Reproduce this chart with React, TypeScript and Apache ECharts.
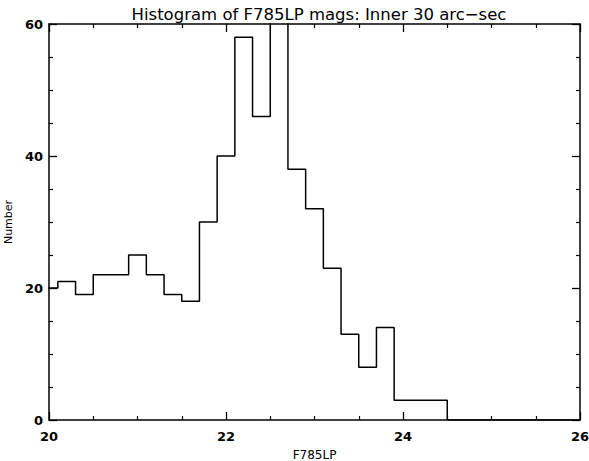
import React, { useEffect, useRef } from "react";
import * as echarts from "echarts";

// Histogram bins: left edges (mag) and counts
const binLeftEdges: number[] = [19.9, 20.1, 20.3, 20.5, 20.7, 20.9, 21.1, 21.3, 21.5, 21.7, 21.9, 22.1, 22.3, 22.5, 22.7, 22.9, 23.1, 23.3, 23.5, 23.7, 23.9, 24.1, 24.3];
const counts: number[] = [20, 21, 19, 22, 22, 25, 22, 19, 18, 30, 40, 58, 46, 62, 38, 32, 23, 13, 8, 14, 3, 3, 3];
const lastEdge = 24.5;
const xTicks: number[] = [20, 22, 24, 26];
const yTicks: number[] = [0, 20, 40, 60];

const title = "Histogram of F785LP mags: Inner 30 arc\u2212sec";
const xName = "F785LP";
const yName = "Number";

export default function App() {
  const ref = useRef<HTMLDivElement>(null);
  useEffect(() => {
    if (!ref.current) return;
    const chart = echarts.init(ref.current, null, { renderer: "svg" });
    const data: number[][] = binLeftEdges.map((x, i) => [x, counts[i]]);
    data.push([lastEdge, 0]);
    data.push([xTicks[xTicks.length - 1], 0]);
    const font = "DejaVu Sans";
    const axisLine = { show: true, onZero: false, lineStyle: { color: "#000", width: 1.5 } };
    const tick = { show: true, inside: true, length: 8, lineStyle: { color: "#000", width: 1.3 } };
    const minor = { show: true, splitNumber: 4, length: 4, lineStyle: { color: "#000", width: 1.2 } };
    chart.setOption({
      animation: false,
      backgroundColor: "#fff",
      title: {
        text: title,
        left: 314,
        top: 1,
        textAlign: "center",
        textStyle: { fontFamily: font, fontSize: 16.5, fontWeight: "normal", color: "#000" },
      },
      grid: { left: 49, right: 9, top: 24, bottom: 41, outerBoundsMode: "none", containLabel: false },
      xAxis: [
        {
          type: "value",
          position: "bottom",
          min: xTicks[0],
          max: xTicks[xTicks.length - 1],
          interval: 2,
          name: xName,
          nameLocation: "middle",
          nameGap: 29,
          nameTextStyle: { fontFamily: font, fontSize: 12, color: "#000" },
          axisLine,
          axisTick: tick,
          minorTick: minor,
          splitLine: { show: false },
          axisLabel: { fontFamily: font, fontSize: 13, fontWeight: "bold", color: "#000", margin: 10 },
        },
        {
          type: "value",
          position: "top",
          min: xTicks[0],
          max: xTicks[xTicks.length - 1],
          interval: 2,
          axisLine,
          axisTick: tick,
          minorTick: minor,
          splitLine: { show: false },
          axisLabel: { show: false },
        },
      ],
      yAxis: [
        {
          type: "value",
          position: "left",
          min: yTicks[0],
          max: yTicks[yTicks.length - 1],
          interval: 20,
          name: yName,
          nameLocation: "middle",
          nameGap: 34,
          nameTextStyle: { fontFamily: font, fontSize: 11, color: "#000" },
          axisLine,
          axisTick: tick,
          minorTick: minor,
          splitLine: { show: false },
          axisLabel: { fontFamily: font, fontSize: 13, fontWeight: "bold", color: "#000", margin: 6 },
        },
        {
          type: "value",
          position: "right",
          min: yTicks[0],
          max: yTicks[yTicks.length - 1],
          interval: 20,
          axisLine,
          axisTick: tick,
          minorTick: minor,
          splitLine: { show: false },
          axisLabel: { show: false },
        },
      ],
      series: [
        {
          type: "line",
          step: "end",
          data,
          clip: true,
          symbol: "none",
          lineStyle: { color: "#000", width: 1.5 },
          xAxisIndex: 0,
          yAxisIndex: 0,
        },
      ],
    });
    return () => chart.dispose();
  }, []);
  return <div ref={ref} style={{ position: "fixed", left: 0, top: 0, width: 589, height: 461 }} />;
}
